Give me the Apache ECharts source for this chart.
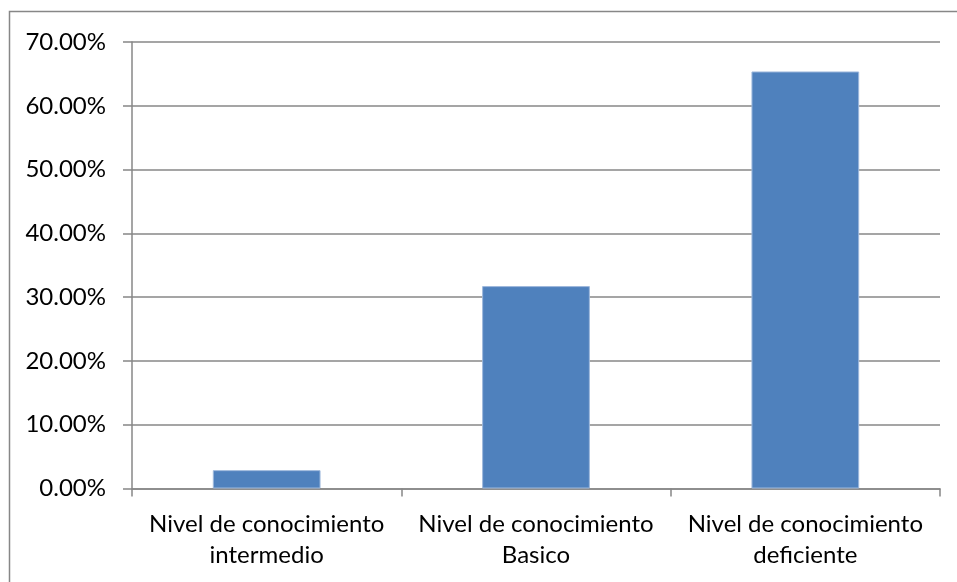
<!DOCTYPE html>
<html>
<head>
<meta charset="utf-8">
<script src="https://cdn.jsdelivr.net/npm/echarts@6/dist/echarts.min.js"></script>
<style>html,body{margin:0;padding:0;background:#fff}#c{width:957px;height:582px}</style>
</head>
<body>
<div id="c"></div>
<script>
var categories = ["Nivel de conocimiento\nintermedio", "Nivel de conocimiento\nBasico", "Nivel de conocimiento\ndeficiente"];
var values = [2.88, 31.73, 65.38];
var yMin = 0, yMax = 70, yStep = 10;

var chart = echarts.init(document.getElementById('c'), null, {renderer: 'canvas'});
var gray = '#878787';
var font = 'Lato';
chart.setOption({
  animation: false,
  backgroundColor: '#fff',
  graphic: [{
    type: 'rect', silent: true,
    shape: {x: 9.5, y: 11.5, width: 1000, height: 700},
    style: {fill: 'none', stroke: gray, lineWidth: 1.5}
  }],
  grid: {left: 132, right: 17, top: 42, bottom: 93.5, containLabel: false},
  xAxis: {
    type: 'category',
    data: categories,
    boundaryGap: true,
    axisLine: {show: true, lineStyle: {color: gray, width: 1.5}},
    axisTick: {show: true, inside: false, length: 8, alignWithLabel: false, lineStyle: {color: gray, width: 1.5}},
    axisLabel: {color: '#000', fontFamily: font, fontSize: 24, lineHeight: 31, margin: 20, interval: 0},
    splitLine: {show: false}
  },
  yAxis: {
    type: 'value',
    min: yMin, max: yMax, interval: yStep,
    axisLine: {show: true, lineStyle: {color: gray, width: 1.5}},
    axisTick: {show: true, inside: false, length: 9, lineStyle: {color: gray, width: 1.5}},
    axisLabel: {color: '#000', fontFamily: font, fontSize: 24, margin: 26,
      formatter: function (v) { return v.toFixed(2) + '%'; }},
    splitLine: {show: true, lineStyle: {color: gray, width: 1.5}}
  },
  series: [{
    type: 'bar',
    data: values,
    barWidth: '40%',
    itemStyle: {color: '#4F81BD', borderColor: '#9db8dc', borderWidth: 1}
  }]
});
</script>
</body>
</html>
